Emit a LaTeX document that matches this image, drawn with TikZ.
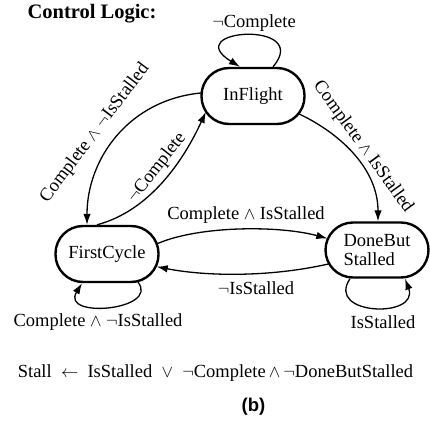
\documentclass[tikz,border=0pt]{standalone}
\usepackage{fontspec}
\setmainfont{Liberation Serif}
\newfontfamily\bsans{Liberation Sans}
\usetikzlibrary{arrows.meta}
\begin{document}
\begin{tikzpicture}[x=1pt,y=1pt,
  state/.style={draw, line width=2.4pt, rounded corners=27.5pt, minimum width=103pt, minimum height=56pt, inner sep=0pt, align=left, font=\fontsize{18.5}{21}\selectfont},
  lbl/.style={font=\fontsize{18.5}{21}\selectfont, inner sep=0pt},
  tr/.style={line width=1.3pt, -{Latex[length=11pt,width=7.5pt]}}]
\useasboundingbox (0,0) rectangle (430,-427);
% states
\node[state] (inf) at (253,-96) {InFlight};
\node[state] (fc) at (107,-254) {FirstCycle};
\node[state, minimum height=55pt] (dbs) at (377,-250) {DoneBut\\[-2pt]Stalled};
% title
\node[lbl, font=\fontsize{20.5}{22}\selectfont\bfseries] (title) at (92,-14) {Control Logic:};
% InFlight self loop
\draw[tr] ([xshift=20pt]inf.north) .. controls +(40,47) and +(-62,38) .. ([xshift=-13pt]inf.north);
\node[lbl] (l1) at (254,-23) {$\neg$Complete};
% InFlight -> DoneButStalled
\draw[tr] ([shift={(-6.5,-18)}]inf.east) .. controls +(42,-20) and +(0,52) .. ([xshift=1pt]dbs.north);
\node[lbl, rotate=-54] (l2) at (363,-147) {Complete $\wedge$ IsStalled};
% InFlight -> FirstCycle
\draw[tr] ([shift={(0.5,3)}]inf.west) .. controls +(-72,-7) and +(0,66) .. ([xshift=-20pt]fc.north);
\node[lbl, rotate=53] (l3) at (95,-133) {Complete $\wedge$ $\neg$IsStalled};
% FirstCycle -> InFlight
\draw[tr] ([xshift=-10pt]fc.north) .. controls +(53,14) and +(-22,-48) .. ([shift={(5.5,-16)}]inf.west);
\node[lbl, rotate=52] (l4) at (157,-168) {$\neg$Complete};
% FirstCycle -> DoneButStalled
\draw[tr] ([shift={(-2,10.5)}]fc.east) .. controls +(42,18) and +(-48,13) .. ([shift={(3,11.6)}]dbs.west);
\node[lbl] (l5) at (246,-215) {Complete $\wedge$ IsStalled};
% DoneButStalled -> FirstCycle
\draw[tr] ([shift={(4,-14)}]dbs.west) .. controls +(-57,-13) and +(51,-10) .. ([shift={(-3,-12.7)}]fc.east);
\node[lbl] (l6) at (256,-288) {$\neg$IsStalled};
% FirstCycle self loop
\draw[tr] ([shift={(31,1)}]fc.south) .. controls +(22,-28) and +(-22,-36) .. ([xshift=-25pt]fc.south);
\node[lbl] (l7) at (98,-322) {Complete $\wedge$ $\neg$IsStalled};
% DoneButStalled self loop
\draw[tr] ([xshift=-27pt]dbs.south) .. controls +(-25,-37) and +(15,-40) .. ([xshift=28pt]dbs.south);
\node[lbl] (l8) at (383,-322) {IsStalled};
% formula
\node[lbl] (f) at (215.5,-373) {Stall\ \ $\leftarrow$\ \ IsStalled\ \ $\vee$\ \ $\neg$Complete\,$\wedge$\,$\neg$DoneButStalled};
\node[lbl, font=\fontsize{18.5}{21}\bsans\bfseries] (b) at (253.5,-407) {(b)};
\end{tikzpicture}
\end{document}
